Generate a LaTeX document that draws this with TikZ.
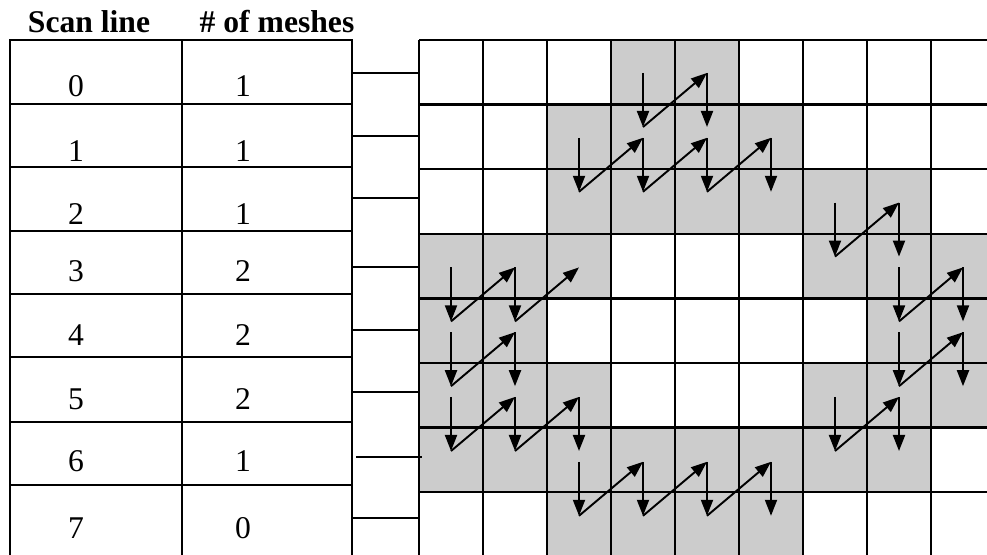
\documentclass[tikz,border=0pt]{standalone}
\usepackage{fontspec}
\setmainfont{Liberation Serif}
\usetikzlibrary{arrows.meta}

\tikzset{
  tabline/.style={line width=1.4pt},
  gridline/.style={line width=1.4pt},
  meshcell/.style={fill=gray!40,draw=none},
  scanarrow/.style={line width=1.1pt,-{Triangle[length=0.32cm,width=0.24cm]}},
  celltext/.style={font=\fontsize{18}{21}\selectfont,anchor=base,inner sep=0pt},
  headtext/.style={font=\fontsize{18}{21}\selectfont\bfseries,anchor=base,inner sep=0pt}
}

\begin{document}
\begin{tikzpicture}
\useasboundingbox (0,0) rectangle (19.74,11.08);
\clip (0,0) rectangle (19.74,11.08);

\draw[meshcell] (12.22,8.988) rectangle (14.78,10.28);
\draw[meshcell] (10.94,7.696) rectangle (16.06,8.988);
\draw[meshcell] (10.94,6.404) rectangle (18.62,7.696);
\draw[meshcell] (8.38,5.112) rectangle (12.22,6.404);
\draw[meshcell] (16.06,5.112) rectangle (19.9,6.404);
\draw[meshcell] (8.38,3.82) rectangle (10.94,5.112);
\draw[meshcell] (17.34,3.82) rectangle (19.9,5.112);
\draw[meshcell] (8.38,2.528) rectangle (12.22,3.82);
\draw[meshcell] (16.06,2.528) rectangle (19.9,3.82);
\draw[meshcell] (8.38,1.236) rectangle (18.62,2.528);
\draw[meshcell] (10.94,-0.056) rectangle (16.06,1.236);

\begin{scope}[shift={(8.38,-0.056)}]
\draw[gridline] (0,0) grid[xstep=1.28,ystep=1.292] (11.53,10.34);
\end{scope}

\draw[tabline] (0.2,-0.2) -- (0.2,10.28) -- (7.04,10.28) -- (7.04,-0.2);
\draw[tabline] (3.64,-0.2) -- (3.64,10.28);
\draw[tabline] (0.2,9.0) -- (7.04,9.0);
\draw[tabline] (0.2,7.74) -- (7.04,7.74);
\draw[tabline] (0.2,6.46) -- (7.04,6.46);
\draw[tabline] (0.2,5.2) -- (7.04,5.2);
\draw[tabline] (0.2,3.94) -- (7.04,3.94);
\draw[tabline] (0.2,2.64) -- (7.04,2.64);
\draw[tabline] (0.2,1.38) -- (7.04,1.38);

\node[headtext] (hscan) at (1.78,10.42) {Scan line};
\node[headtext] (hmesh) at (5.54,10.42) {\# of meshes};

\node[celltext] (line0) at (1.52,9.14) {0};
\node[celltext] (mesh0) at (4.86,9.14) {1};
\node[celltext] (line1) at (1.52,7.84) {1};
\node[celltext] (mesh1) at (4.86,7.84) {1};
\node[celltext] (line2) at (1.52,6.58) {2};
\node[celltext] (mesh2) at (4.86,6.58) {1};
\node[celltext] (line3) at (1.52,5.44) {3};
\node[celltext] (mesh3) at (4.86,5.44) {2};
\node[celltext] (line4) at (1.52,4.16) {4};
\node[celltext] (mesh4) at (4.86,4.16) {2};
\node[celltext] (line5) at (1.52,2.88) {5};
\node[celltext] (mesh5) at (4.86,2.88) {2};
\node[celltext] (line6) at (1.52,1.64) {6};
\node[celltext] (mesh6) at (4.86,1.64) {1};
\node[celltext] (line7) at (1.52,0.32) {7};
\node[celltext] (mesh7) at (4.86,0.32) {0};

\coordinate (tab0) at (7.04,9.62);  \coordinate (scan0) at (8.38,9.62);
\coordinate (tab1) at (7.04,8.36);  \coordinate (scan1) at (8.38,8.36);
\coordinate (tab2) at (7.04,7.12);  \coordinate (scan2) at (8.38,7.12);
\coordinate (tab3) at (7.04,5.74);  \coordinate (scan3) at (8.38,5.74);
\coordinate (tab4) at (7.04,4.48);  \coordinate (scan4) at (8.38,4.48);
\coordinate (tab5) at (7.04,3.24);  \coordinate (scan5) at (8.38,3.24);
\coordinate (tab6) at (7.12,1.94);  \coordinate (scan6) at (8.44,1.94);
\coordinate (tab7) at (7.04,0.72);  \coordinate (scan7) at (8.38,0.72);
\draw[tabline] (tab0) -- (scan0);
\draw[tabline] (tab1) -- (scan1);
\draw[tabline] (tab2) -- (scan2);
\draw[tabline] (tab3) -- (scan3);
\draw[tabline] (tab4) -- (scan4);
\draw[tabline] (tab5) -- (scan5);
\draw[tabline] (tab6) -- (scan6);
\draw[tabline] (tab7) -- (scan7);

\draw[scanarrow] (12.86,9.62) -- (12.86,8.54);
\draw[scanarrow] (12.86,8.54) -- (14.14,9.62);
\draw[scanarrow] (14.14,9.62) -- (14.14,8.54);

\draw[scanarrow] (11.58,8.324) -- (11.58,7.244);
\draw[scanarrow] (11.58,7.244) -- (12.86,8.324);
\draw[scanarrow] (12.86,8.324) -- (12.86,7.244);
\draw[scanarrow] (12.86,7.244) -- (14.14,8.324);
\draw[scanarrow] (14.14,8.324) -- (14.14,7.244);
\draw[scanarrow] (14.14,7.244) -- (15.42,8.324);
\draw[scanarrow] (15.42,8.324) -- (15.42,7.244);

\draw[scanarrow] (16.70,7.028) -- (16.70,5.948);
\draw[scanarrow] (16.70,5.948) -- (17.98,7.028);
\draw[scanarrow] (17.98,7.028) -- (17.98,5.948);

\draw[scanarrow] (9.02,5.732) -- (9.02,4.652);
\draw[scanarrow] (9.02,4.652) -- (10.30,5.732);
\draw[scanarrow] (10.30,5.732) -- (10.30,4.652);
\draw[scanarrow] (10.30,4.652) -- (11.58,5.732);
\draw[scanarrow] (17.98,5.732) -- (17.98,4.652);
\draw[scanarrow] (17.98,4.652) -- (19.26,5.732);
\draw[scanarrow] (19.26,5.732) -- (19.26,4.652);

\draw[scanarrow] (9.02,4.436) -- (9.02,3.356);
\draw[scanarrow] (9.02,3.356) -- (10.30,4.436);
\draw[scanarrow] (10.30,4.436) -- (10.30,3.356);
\draw[scanarrow] (17.98,4.436) -- (17.98,3.356);
\draw[scanarrow] (17.98,3.356) -- (19.26,4.436);
\draw[scanarrow] (19.26,4.436) -- (19.26,3.356);

\draw[scanarrow] (9.02,3.14) -- (9.02,2.06);
\draw[scanarrow] (9.02,2.06) -- (10.30,3.14);
\draw[scanarrow] (10.30,3.14) -- (10.30,2.06);
\draw[scanarrow] (10.30,2.06) -- (11.58,3.14);
\draw[scanarrow] (11.58,3.14) -- (11.58,2.06);
\draw[scanarrow] (16.70,3.14) -- (16.70,2.06);
\draw[scanarrow] (16.70,2.06) -- (17.98,3.14);
\draw[scanarrow] (17.98,3.14) -- (17.98,2.06);

\draw[scanarrow] (11.58,1.844) -- (11.58,0.764);
\draw[scanarrow] (11.58,0.764) -- (12.86,1.844);
\draw[scanarrow] (12.86,1.844) -- (12.86,0.764);
\draw[scanarrow] (12.86,0.764) -- (14.14,1.844);
\draw[scanarrow] (14.14,1.844) -- (14.14,0.764);
\draw[scanarrow] (14.14,0.764) -- (15.42,1.844);
\draw[scanarrow] (15.42,1.844) -- (15.42,0.764);

\end{tikzpicture}
\end{document}
